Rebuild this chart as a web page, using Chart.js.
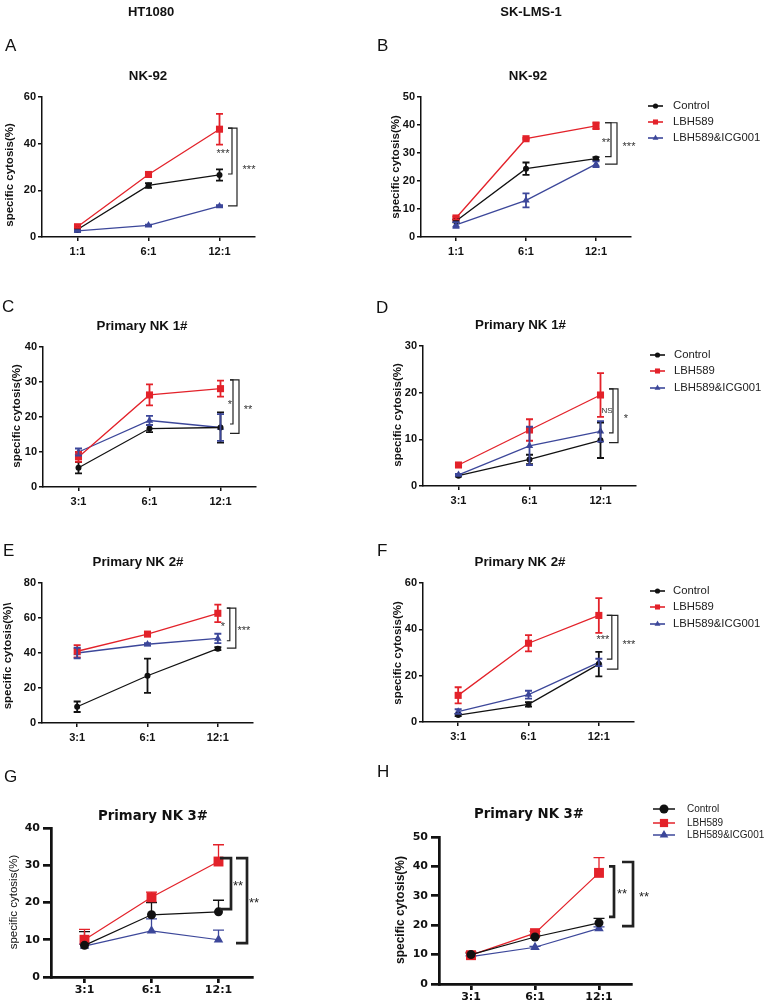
<!DOCTYPE html>
<html>
<head>
<meta charset="utf-8">
<script src="https://cdn.jsdelivr.net/npm/chart.js@4.4.1/dist/chart.umd.min.js"></script>
<style>
  html, body { margin: 0; padding: 0; background: #fff; }
  #wrap { position: relative; width: 765px; height: 1004px; overflow: hidden; }
  #wrap canvas { position: absolute; left: 0; top: 0; }
</style>
</head>
<body>
<div id="wrap"></div>
<script>
// groups shared by every panel
const groups = ['Control', 'LBH589', 'LBH589&ICG001'];
const groupColors = ['#111111', '#e3222a', '#3c479a'];
const groupMarkers = ['circle', 'rect', 'triangle'];

// effector : target ratios
const ratiosNK92 = ['1:1', '6:1', '12:1'];
const ratiosPrimary = ['3:1', '6:1', '12:1'];

// rows: Control, LBH589, LBH589&ICG001  (mean and sd, % specific cytosis)
// A - HT1080, NK-92
const meanA = [[3.2, 22.1, 26.6], [4.4, 26.8, 46.2], [2.6, 5.0, 13.2]];
const sdA = [[0.6, 1.0, 2.4], [0.5, 0.6, 6.6], [0.3, 0.3, 0.4]];
// B - SK-LMS-1, NK-92
const meanB = [[5.7, 24.4, 28.0], [6.8, 35.1, 39.7], [4.3, 13.1, 26.0]];
const sdB = [[0.5, 2.2, 0.5], [0.5, 0.3, 1.2], [1.0, 2.5, 1.0]];
// C - HT1080, primary NK 1#
const meanC = [[5.5, 16.7, 17.0], [8.6, 26.3, 28.1], [10.0, 19.0, 17.0]];
const sdC = [[1.6, 1.0, 4.3], [1.4, 3.0, 2.3], [1.0, 1.3, 3.8]];
// D - SK-LMS-1, primary NK 1#
const meanD = [[2.2, 5.7, 9.8], [4.5, 12.0, 19.5], [2.4, 8.6, 11.7]];
const sdD = [[0.2, 1.0, 3.8], [0.2, 2.3, 4.7], [0.2, 4.1, 2.2]];
// E - HT1080, primary NK 2#
const meanE = [[9.3, 27.0, 42.5], [41.0, 50.8, 62.7], [40.0, 45.0, 48.3]];
const sdE = [[3.0, 9.8, 0.8], [3.5, 0.6, 5.0], [3.0, 0.6, 2.7]];
// F - SK-LMS-1, primary NK 2#
const meanF = [[3.0, 7.6, 25.0], [11.5, 34.0, 46.0], [4.5, 11.8, 25.7]];
const sdF = [[0.5, 1.0, 5.3], [3.5, 3.5, 7.5], [1.0, 1.7, 1.6]];
// G - HT1080, primary NK 3#
const meanG = [[8.5, 16.7, 17.5], [10.0, 21.4, 31.0], [8.3, 12.4, 10.0]];
const sdG = [[3.7, 3.3, 3.1], [2.8, 1.4, 4.5], [0.5, 3.2, 2.6]];
// H - SK-LMS-1, primary NK 3#
const meanH = [[10.0, 16.0, 20.8], [9.8, 17.3, 37.8], [9.3, 12.5, 18.9]];
const sdH = [[0.5, 0.5, 1.5], [1.0, 0.6, 5.2], [0.3, 0.3, 0.5]];

// significance brackets at 12:1  [top value, bottom value, mark]
const sigA = [[46.7, 27.0, '***'], [46.7, 13.3, '***']];
const sigB = [[40.8, 28.7, '**'], [40.8, 26.0, '***']];
const sigC = [[30.6, 18.0, '*'], [30.6, 15.3, '**']];
const sigD = [[20.8, 11.4, 'NS'], [20.8, 9.3, '*']];
const sigE = [[65.7, 47.0, '*'], [65.7, 42.8, '***']];
const sigF = [[46.0, 27.1, '***'], [46.0, 22.8, '***']];
const sigG = [[31.9, 18.2, '**'], [31.9, 9.1, '**']];
const sigH = [[40.0, 22.8, '**'], [41.5, 19.7, '**']];

const FONT = '"Liberation Sans", Arial, sans-serif';
const HEAVY = '"DejaVu Sans", Verdana, sans-serif';

const thin = {
    tickFont: { family: FONT, size: 11, weight: 'bold' },
    titleFont: 'bold 13.3px ' + FONT,
    axisWidth: 1.5, yTickLen: 4, xTickLen: 4, yPad: 2, xPad: 4,
    lineWidth: 1.3, radius: [3, 5, 4.3],
    errWidth: 1.8, cap: 3.5, upOnly: false,
    bracketWidth: 1.2, starFont: '11px ' + FONT, starColor: '#333',
    legendFont: '11.3px ' + FONT, legendRadius: [2.6, 3.6, 3.4]
};
const heavy = {
    tickFont: { family: HEAVY, size: 11, weight: 'bold' },
    titleFont: 'bold 13.3px ' + HEAVY,
    axisWidth: 2.7, yTickLen: 8, xTickLen: 6, yPad: 3, xPad: 1,
    lineWidth: 1.2, radius: [4.5, 7, 5.5],
    errWidth: 1.3, cap: 5.5, upOnly: true,
    bracketWidth: 2.7, starFont: '13px ' + FONT, starColor: '#222',
    legendFont: '10px ' + FONT, legendRadius: [4.5, 5.8, 5]
};

const panels = [
    { style: thin, cats: ratiosNK92, mean: meanA, sd: sdA, sig: sigA,
      box: [42, 97, 255, 237], yMax: 60, yStep: 20,
      letter: ['A', 5, 51], header: ['HT1080', 151, 16], title: ['NK-92', 148, 80],
      yLabel: ['specific cytosis(%)', 10, 175, 'bold 11.5px ' + FONT],
      brackets: [[12.5, 8.5, 3.5], [17.5, 8.5, 29.5]], legend: null },
    { style: thin, cats: ratiosNK92, mean: meanB, sd: sdB, sig: sigB,
      box: [421, 97, 631, 237], yMax: 50, yStep: 10,
      letter: ['B', 377, 51], header: ['SK-LMS-1', 531, 16], title: ['NK-92', 528, 80],
      yLabel: ['specific cytosis(%)', 395.5, 167, 'bold 11.5px ' + FONT],
      brackets: [[15, 9, 10], [21, 9, 33]],
      legend: { x0: 648, x1: 663, tx: 673, ys: [106, 122, 138] } },
    { style: thin, cats: ratiosPrimary, mean: meanC, sd: sdC, sig: sigC,
      box: [43, 347, 256, 487], yMax: 40, yStep: 10,
      letter: ['C', 2, 312], header: null, title: ['Primary NK 1#', 142, 330],
      yLabel: ['specific cytosis(%)', 17, 416, 'bold 11.5px ' + FONT],
      brackets: [[12.5, 9.5, 9.5], [18.5, 9.5, 27.5]], legend: null },
    { style: thin, cats: ratiosPrimary, mean: meanD, sd: sdD, sig: sigD,
      box: [423, 346, 636, 486], yMax: 30, yStep: 10,
      letter: ['D', 376, 313], header: null, title: ['Primary NK 1#', 520.5, 329],
      yLabel: ['specific cytosis(%)', 397.5, 415, 'bold 11.5px ' + FONT],
      brackets: [[12.5, 8.5, 6.5], [17.5, 8.5, 25.5]],
      legend: { x0: 650, x1: 665, tx: 674, ys: [355, 371, 388] } },
    { style: thin, cats: ratiosPrimary, mean: meanE, sd: sdE, sig: sigE,
      box: [42, 583, 253, 723], yMax: 80, yStep: 20,
      letter: ['E', 3, 556], header: null, title: ['Primary NK 2#', 138, 566],
      yLabel: ['specific cytosis(%)\\', 8, 656, 'bold 11.5px ' + FONT],
      brackets: [[12, 9, 5], [18, 9, 26]], legend: null },
    { style: thin, cats: ratiosPrimary, mean: meanF, sd: sdF, sig: sigF,
      box: [423, 583, 634, 722], yMax: 60, yStep: 20,
      letter: ['F', 377, 556], header: null, title: ['Primary NK 2#', 520, 566],
      yLabel: ['specific cytosis(%)', 398, 653, 'bold 11.5px ' + FONT],
      brackets: [[13, 8, 4], [19, 8, 30]],
      legend: { x0: 650, x1: 665, tx: 673, ys: [591, 607, 624] } },
    { style: heavy, cats: ratiosPrimary, mean: meanG, sd: sdG, sig: sigG,
      box: [51, 828, 252, 977], yMax: 40, yStep: 10,
      letter: ['G', 4, 782], header: null, title: ['Primary NK 3#', 153, 820],
      yLabel: ['specific cytosis(%)', 13.5, 902, '11.5px ' + FONT],
      brackets: [[12.5, 1.5, 19.5], [28.5, 17.5, 35.5]], legend: null },
    { style: heavy, cats: ratiosPrimary, mean: meanH, sd: sdH, sig: sigH,
      box: [439, 837, 631, 984], yMax: 50, yStep: 10,
      letter: ['H', 377, 777], header: null, title: ['Primary NK 3#', 529, 818],
      yLabel: ['specific cytosis(%)', 400.5, 910, 'bold 12px ' + FONT],
      brackets: [[15, 10, 23], [34, 23, 45]],
      legend: { x0: 653, x1: 675, tx: 687, ys: [809, 823, 835] } }
];

const wrap = document.getElementById('wrap');

function errorBars(chart, p) {
    const s = p.style;
    const ctx = chart.ctx;
    const ys = chart.scales.y;
    ctx.save();
    ctx.lineWidth = s.errWidth;
    chart.data.datasets.forEach(function (ds, i) {
        const meta = chart.getDatasetMeta(i);
        ctx.strokeStyle = groupColors[i];
        ds.data.forEach(function (v, j) {
            const x = meta.data[j].x;
            const yTop = ys.getPixelForValue(v + p.sd[i][j]);
            const yBot = s.upOnly ? ys.getPixelForValue(v) : ys.getPixelForValue(v - p.sd[i][j]);
            ctx.beginPath();
            ctx.moveTo(x, yTop);
            ctx.lineTo(x, yBot);
            ctx.moveTo(x - s.cap, yTop);
            ctx.lineTo(x + s.cap, yTop);
            if (!s.upOnly) {
                ctx.moveTo(x - s.cap, yBot);
                ctx.lineTo(x + s.cap, yBot);
            }
            ctx.stroke();
        });
    });
    ctx.restore();
}

function makeDecor(p) {
    const s = p.style;
    return {
        id: 'decor' + p.letter[0],
        beforeDatasetsDraw(chart) {
            if (s.upOnly) errorBars(chart, p);
        },
        afterDatasetsDraw(chart) {
            if (!s.upOnly) errorBars(chart, p);
        },
        afterDraw(chart) {
            const ctx = chart.ctx;
            const xs = chart.scales.x, ys = chart.scales.y;
            ctx.save();

            // significance brackets beside the last ratio
            const xLast = xs.getPixelForValue(p.cats.length - 1);
            ctx.strokeStyle = '#222';
            ctx.lineWidth = s.bracketWidth;
            p.sig.forEach(function (b, k) {
                const [lineDx, tickDx, labelDx] = p.brackets[k];
                const yT = ys.getPixelForValue(b[0]);
                const yB = ys.getPixelForValue(b[1]);
                const xl = xLast + lineDx, xt = xLast + tickDx;
                ctx.beginPath();
                ctx.moveTo(xt, yT);
                ctx.lineTo(xl, yT);
                ctx.lineTo(xl, yB);
                ctx.lineTo(xt, yB);
                ctx.stroke();
                const isNS = b[2] === 'NS';
                ctx.fillStyle = s.starColor;
                ctx.font = isNS ? '8px ' + FONT : s.starFont;
                ctx.textAlign = 'center';
                ctx.textBaseline = 'middle';
                ctx.fillText(b[2], xLast + labelDx, (yT + yB) / 2 + (isNS ? 0 : 3));
            });

            // panel letter, column header, title
            ctx.fillStyle = '#111';
            ctx.textBaseline = 'alphabetic';
            ctx.textAlign = 'left';
            ctx.font = '17px ' + FONT;
            ctx.fillText(p.letter[0], p.letter[1], p.letter[2]);
            ctx.textAlign = 'center';
            if (p.header) {
                ctx.font = 'bold 13px ' + FONT;
                ctx.fillText(p.header[0], p.header[1], p.header[2]);
            }
            ctx.font = s.titleFont;
            ctx.fillText(p.title[0], p.title[1], p.title[2]);

            // y axis label
            ctx.save();
            ctx.translate(p.yLabel[1], p.yLabel[2]);
            ctx.rotate(-Math.PI / 2);
            ctx.font = p.yLabel[3];
            ctx.textBaseline = 'middle';
            ctx.fillText(p.yLabel[0], 0, 0);
            ctx.restore();

            // legend
            if (p.legend) {
                const L = p.legend;
                chart.data.datasets.forEach(function (ds, i) {
                    const y = L.ys[i];
                    ctx.strokeStyle = groupColors[i];
                    ctx.fillStyle = groupColors[i];
                    ctx.lineWidth = s.lineWidth + 0.3;
                    ctx.beginPath();
                    ctx.moveTo(L.x0, y);
                    ctx.lineTo(L.x1, y);
                    ctx.stroke();
                    Chart.helpers.drawPoint(ctx, {
                        pointStyle: groupMarkers[i], radius: s.legendRadius[i], rotation: 0, borderWidth: 0
                    }, (L.x0 + L.x1) / 2, y);
                    ctx.fillStyle = '#222';
                    ctx.font = s.legendFont;
                    ctx.textAlign = 'left';
                    ctx.textBaseline = 'middle';
                    ctx.fillText(ds.label, L.tx, y);
                });
            }
            ctx.restore();
        }
    };
}

function buildPanel(p) {
    const s = p.style;
    const [left, top, right, bottom] = p.box;
    const yBox = 40, xBox = 20;
    const canvas = document.createElement('canvas');
    canvas.width = 765;
    canvas.height = 1004;
    wrap.appendChild(canvas);

    const datasets = groups.map(function (g, i) {
        return {
            label: g,
            data: p.mean[i],
            borderColor: groupColors[i],
            backgroundColor: groupColors[i],
            pointStyle: groupMarkers[i],
            pointRadius: s.radius[i],
            pointBorderWidth: 0,
            borderWidth: s.lineWidth,
            tension: 0,
            clip: false
        };
    });

    const axisGrid = function (len) {
        return { display: true, drawOnChartArea: false, drawTicks: true, tickLength: len,
                 color: '#111', lineWidth: s.axisWidth, offset: false };
    };

    new Chart(canvas, {
        type: 'line',
        data: { labels: p.cats, datasets: datasets },
        options: {
            responsive: false,
            animation: false,
            events: [],
            layout: { padding: { left: left - yBox, top: top, right: 765 - right, bottom: 1004 - bottom - xBox } },
            plugins: { legend: { display: false }, tooltip: { enabled: false } },
            scales: {
                x: {
                    type: 'category',
                    offset: true,
                    afterFit: function (sc) { sc.height = xBox; },
                    border: { display: true, color: '#111', width: s.axisWidth },
                    grid: axisGrid(s.xTickLen),
                    ticks: { color: '#111', font: s.tickFont, padding: s.xPad, maxRotation: 0, autoSkip: false }
                },
                y: {
                    min: 0,
                    max: p.yMax,
                    afterFit: function (sc) { sc.width = yBox; },
                    border: { display: true, color: '#111', width: s.axisWidth },
                    grid: axisGrid(s.yTickLen),
                    ticks: { color: '#111', font: s.tickFont, padding: s.yPad, stepSize: p.yStep }
                }
            }
        },
        plugins: [makeDecor(p)]
    });
}

panels.forEach(buildPanel);
</script>
</body>
</html>
